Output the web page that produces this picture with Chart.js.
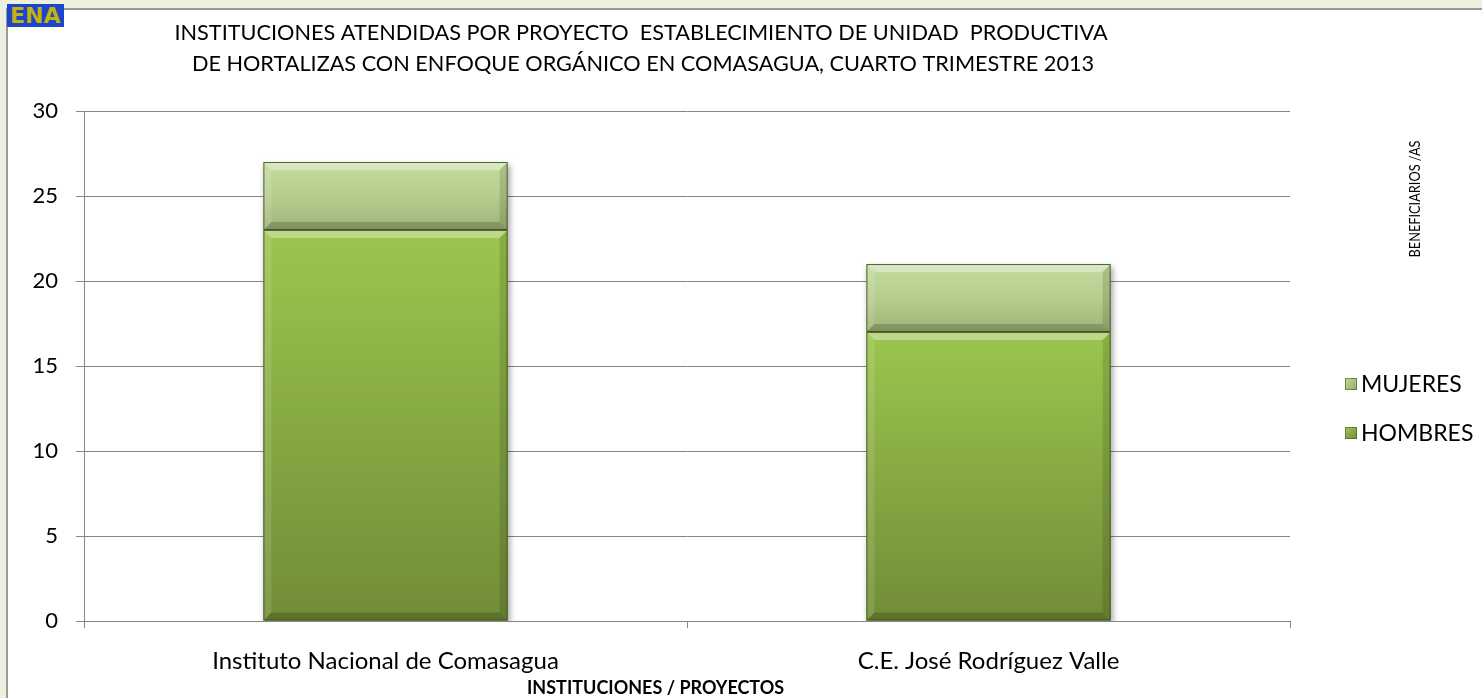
<!DOCTYPE html>
<html>
<head>
<meta charset="utf-8">
<script src="https://cdn.jsdelivr.net/npm/chart.js@4.4.0/dist/chart.umd.min.js"></script>
<style>
html,body{margin:0;padding:0;background:#ebf1de;}
#wrap{position:absolute;left:0;top:0;width:1482px;height:698px;}
</style>
</head>
<body>
<div id="wrap"><canvas id="c" width="1482" height="698"></canvas></div>
<script>
const categories = ['Instituto Nacional de Comasagua', 'C.E. José Rodríguez Valle'];
const hombres = [23, 17];
const mujeres = [4, 4];
const seriesNames = ['HOMBRES', 'MUJERES'];
const yTicks = [0, 5, 10, 15, 20, 25, 30];
const titleLines = ['INSTITUCIONES ATENDIDAS POR PROYECTO  ESTABLECIMIENTO DE UNIDAD  PRODUCTIVA',
                    'DE HORTALIZAS CON ENFOQUE ORGÁNICO EN COMASAGUA, CUARTO TRIMESTRE 2013'];
const xTitle = 'INSTITUCIONES / PROYECTOS';
const yTitle = 'BENEFICIARIOS /AS';

const FONT = 'Lato, "Open Sans", sans-serif';

function segGradient(ctx, dsIndex, top, mid, bot) {
  const chart = ctx.chart;
  const i = ctx.dataIndex;
  const ys = chart.scales && chart.scales.y;
  if (!ys || i === undefined || !chart.chartArea) return mid;
  let lo, hi;
  if (dsIndex === 0) { lo = 0; hi = hombres[i]; }
  else { lo = hombres[i]; hi = hombres[i] + mujeres[i]; }
  const yTop = ys.getPixelForValue(hi);
  const yBot = ys.getPixelForValue(lo);
  const g = chart.ctx.createLinearGradient(0, yTop, 0, yBot);
  g.addColorStop(0, top);
  g.addColorStop(0.5, mid);
  g.addColorStop(1, bot);
  return g;
}

const decorPlugin = {
  id: 'decor',
  beforeDraw(chart) {
    const ctx = chart.ctx;
    ctx.save();
    ctx.fillStyle = '#ebf1de';
    ctx.fillRect(0, 0, chart.width, chart.height);
    ctx.fillStyle = '#ffffff';
    ctx.fillRect(8, 10, chart.width - 8, chart.height - 10);
    ctx.fillStyle = '#9a9a9a';
    ctx.fillRect(6, 8, chart.width - 6, 2);
    ctx.fillRect(6, 8, 2, chart.height - 8);
    // logo
    ctx.fillStyle = '#1f45cc';
    ctx.fillRect(7, 4, 57, 23);
    ctx.fillStyle = '#c4b30e';
    ctx.font = 'bold 22px "DejaVu Sans", sans-serif';
    ctx.textAlign = 'center';
    ctx.textBaseline = 'middle';
    ctx.fillText('ENA', 35.5, 17);
    // title
    ctx.fillStyle = '#000';
    ctx.font = '21.7px ' + FONT;
    ctx.fillText(titleLines[0], 641, 33);
    ctx.fillText(titleLines[1], 643, 64);
    // x title
    ctx.font = 'bold 18px ' + FONT;
    ctx.textAlign = 'left';
    ctx.fillText(xTitle, 527, 688);
    ctx.textAlign = 'center';
    // y title (rotated, displaced to the right as in original)
    ctx.save();
    ctx.translate(1415, 199);
    ctx.rotate(-Math.PI / 2);
    ctx.font = '16px ' + FONT;
    const w = ctx.measureText(yTitle).width;
    ctx.scale(117 / w, 1);
    ctx.fillText(yTitle, 0, 0);
    ctx.restore();
    // legend
    const items = [[seriesNames[1], 384, '#c3d99c', '#93a96c'], [seriesNames[0], 433, '#a3c956', '#6e8c35']];
    ctx.font = '23px ' + FONT;
    ctx.textAlign = 'left';
    items.forEach(([t, y, c1, c2]) => {
      const g = ctx.createLinearGradient(1345, y - 6, 1357, y + 6);
      g.addColorStop(0, c1); g.addColorStop(1, c2);
      ctx.fillStyle = g;
      ctx.fillRect(1345, y - 6, 12, 12);
      ctx.strokeStyle = 'rgba(70,90,30,0.6)';
      ctx.lineWidth = 1;
      ctx.strokeRect(1345.5, y - 5.5, 11, 11);
      ctx.fillStyle = '#000';
      ctx.fillText(t, 1361, y + 1);
    });
    ctx.restore();
  },
  beforeDatasetsDraw(chart) {
    const ctx = chart.ctx;
    ctx.save();
    ctx.shadowColor = 'rgba(0,0,0,0.35)';
    ctx.shadowBlur = 6;
    ctx.shadowOffsetX = 2;
    ctx.shadowOffsetY = 3;
  },
  afterDatasetsDraw(chart) {
    const ctx = chart.ctx;
    ctx.restore();
    ctx.save();
    chart.data.datasets.forEach((ds, di) => {
      chart.getDatasetMeta(di).data.forEach(el => {
        const p = el.getProps(['x', 'y', 'base', 'width'], true);
        const l = p.x - p.width / 2, r = p.x + p.width / 2;
        const t = Math.min(p.y, p.base), b = Math.max(p.y, p.base);
        ctx.fillStyle = 'rgba(255,255,255,0.35)';
        ctx.beginPath();
        ctx.moveTo(l, t); ctx.lineTo(r, t); ctx.lineTo(r - 8, t + 8); ctx.lineTo(l + 8, t + 8); ctx.closePath();
        ctx.fill();
        ctx.fillStyle = 'rgba(0,0,0,0.18)';
        ctx.beginPath();
        ctx.moveTo(l, b); ctx.lineTo(r, b); ctx.lineTo(r - 8, b - 8); ctx.lineTo(l + 8, b - 8); ctx.closePath();
        ctx.fill();
        ctx.fillStyle = 'rgba(255,255,255,0.12)';
        ctx.beginPath();
        ctx.moveTo(l, t); ctx.lineTo(l + 8, t + 8); ctx.lineTo(l + 8, b - 8); ctx.lineTo(l, b); ctx.closePath();
        ctx.fill();
        ctx.fillStyle = 'rgba(0,0,0,0.12)';
        ctx.beginPath();
        ctx.moveTo(r, t); ctx.lineTo(r - 8, t + 8); ctx.lineTo(r - 8, b - 8); ctx.lineTo(r, b); ctx.closePath();
        ctx.fill();
        ctx.strokeStyle = 'rgba(60,80,25,0.85)';
        ctx.lineWidth = 1;
        ctx.strokeRect(l + 0.5, t + 0.5, p.width - 1, b - t - 1);
      });
    });
    ctx.restore();
  }
};

new Chart(document.getElementById('c'), {
  type: 'bar',
  data: {
    labels: categories,
    datasets: [
      {
        label: seriesNames[0],
        data: hombres,
        backgroundColor: ctx => segGradient(ctx, 0, '#9cc64e', '#86a943', '#718d37'),
        borderWidth: 0,
        barPercentage: 0.405,
        categoryPercentage: 1.0
      },
      {
        label: seriesNames[1],
        data: mujeres,
        backgroundColor: ctx => segGradient(ctx, 1, '#c4dca0', '#b6cd8e', '#9fb478'),
        borderWidth: 0,
        barPercentage: 0.405,
        categoryPercentage: 1.0
      }
    ]
  },
  options: {
    responsive: false,
    animation: false,
    events: [],
    layout: { padding: { left: 0, top: 111, right: 192, bottom: 0 } },
    plugins: { legend: { display: false }, title: { display: false }, tooltip: { enabled: false } },
    scales: {
      x: {
        stacked: true,
        offset: true,
        grid: { display: true, drawOnChartArea: false, drawTicks: true, tickLength: 7, color: '#868686', offset: true },
        border: { display: true, color: '#868686', width: 1 },
        ticks: { color: '#000', font: { family: FONT, size: 24 }, padding: 19, maxRotation: 0 },
        afterFit: s => { s.height = 77; }
      },
      y: {
        stacked: true,
        min: 0, max: 30,
        afterBuildTicks: s => { s.ticks = yTicks.map(v => ({ value: v })); },
        grid: { color: '#868686', lineWidth: 1, tickLength: 8, drawTicks: true },
        border: { display: true, color: '#868686', width: 1 },
        ticks: { color: '#000', font: { family: FONT, size: 22 }, padding: 18 },
        afterFit: s => { s.width = 84; }
      }
    }
  },
  plugins: [decorPlugin]
});
</script>
</body>
</html>
